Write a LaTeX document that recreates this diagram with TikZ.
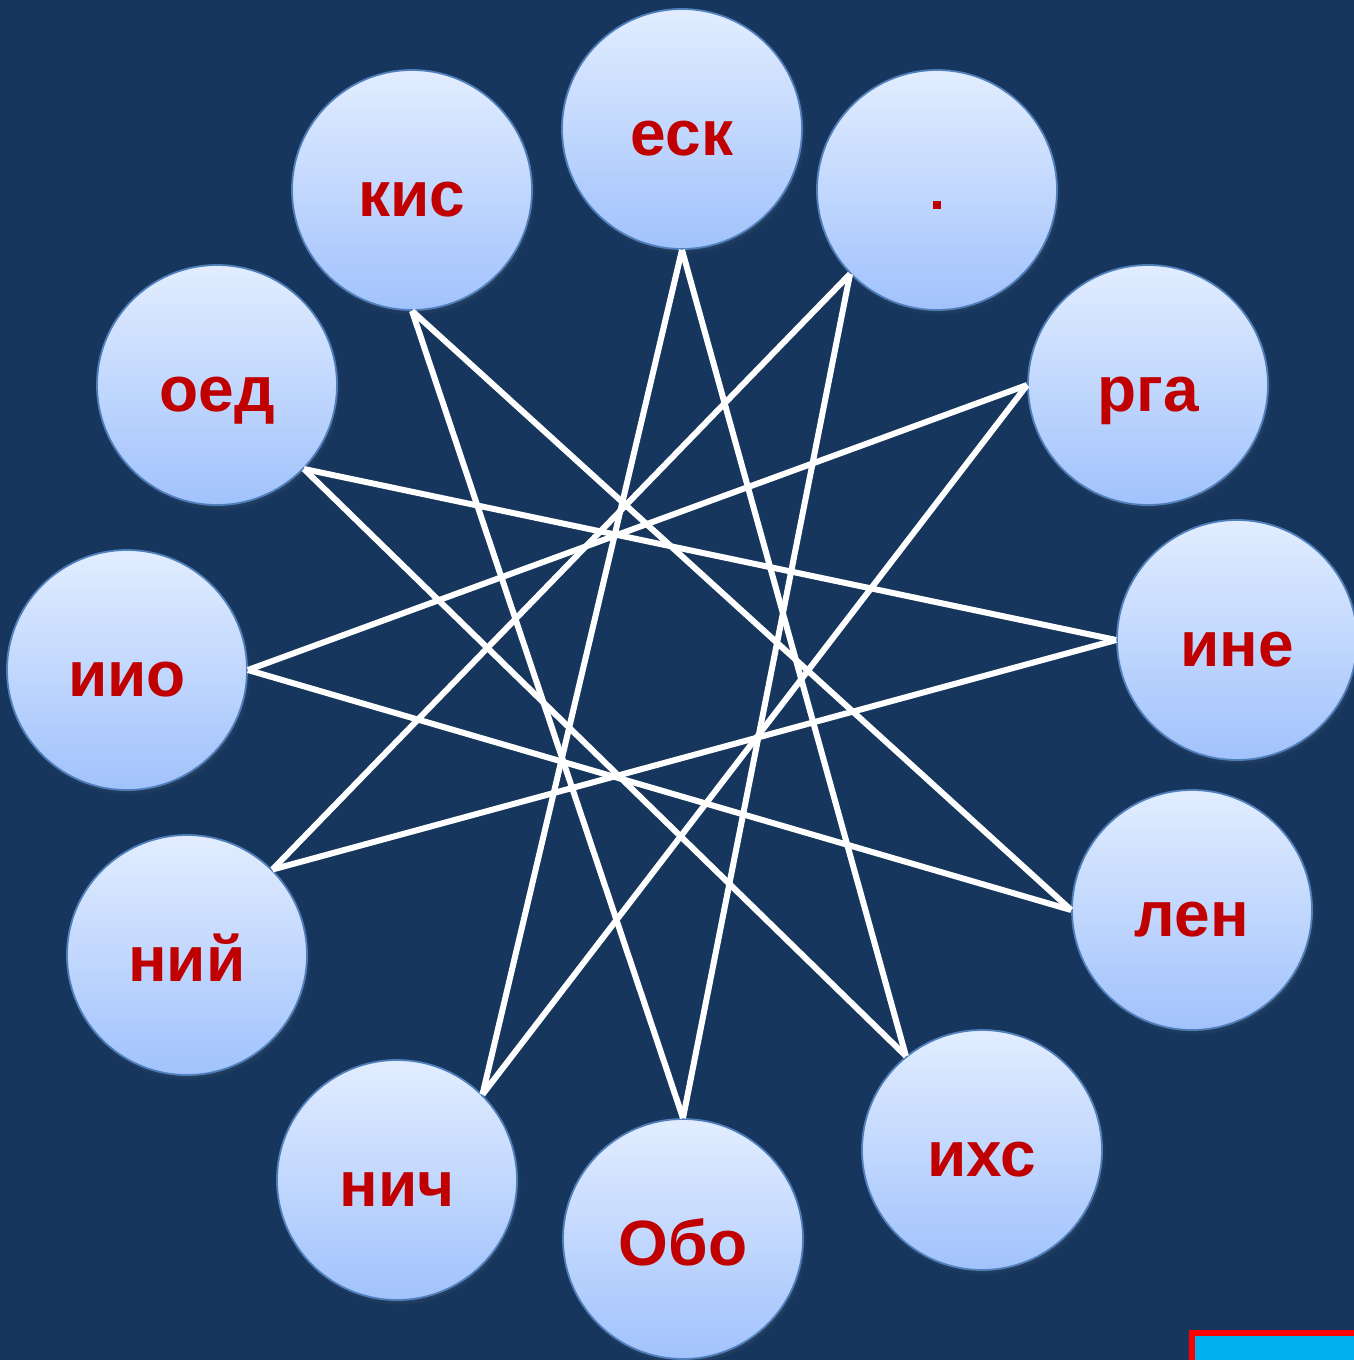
\documentclass[tikz,border=0pt]{standalone}
\usepackage{fontspec}
\setmainfont{Liberation Sans}
\usetikzlibrary{shadows}
\definecolor{bgblue}{HTML}{17365D}
\definecolor{ctop}{HTML}{E2EDFF}
\definecolor{cbot}{HTML}{A1C2FC}
\definecolor{cedge}{HTML}{4F7FBB}
\definecolor{wordred}{HTML}{C00000}
\definecolor{cyanbox}{HTML}{00B0F0}
\tikzset{
  ball/.style={circle, minimum size=240pt, inner sep=0pt, draw=cedge, line width=1.8pt,
    top color=ctop, bottom color=cbot,
    circular drop shadow={opacity=0.45, shadow xshift=1.5pt, shadow yshift=-2.5pt, shadow scale=1.02},
    text=wordred, font=\bfseries\fontsize{64}{70}\selectfont,
    text height=52pt, text depth=0pt},
  link/.style={draw=white, line width=6pt}
}
\begin{document}
\begin{tikzpicture}[x=1pt,y=-1pt]
\useasboundingbox (0,0) rectangle (1354,1360);
\fill[bgblue] (0,0) rectangle (1354,1360);
% corner box
\fill[red] (1189,1330) rectangle (1354,1360);
\fill[cyanbox] (1195,1336) rectangle (1354,1360);
% circles
\node[ball] (a) at (682,129) {еск};
\node[ball] (b) at (937,190) {};
\node[ball] (c) at (1148,385) {рга};
\node[ball] (d) at (1237,640) {ине};
\node[ball] (e) at (1192,910) {лен};
\node[ball] (f) at (982,1150) {ихс};
\node[ball] (g) at (683,1239) {Обо};
\node[ball] (h) at (397,1180) {нич};
\node[ball] (i) at (187,955) {ний};
\node[ball] (j) at (127,670) {иио};
\node[ball] (k) at (217,385) {оед};
\node[ball] (l) at (412,190) {кис};
\node[fill=wordred, minimum size=8pt, inner sep=0pt] (dot) at (937,205) {};
% star lines
\draw[link] (a.-90) -- (h.45);
\draw[link] (a.-90) -- (f.129);
\draw[link] (b.224) -- (g.90);
\draw[link] (b.224) -- (i.45);
\draw[link] (c.180) -- (h.45);
\draw[link] (c.180) -- (j.0);
\draw[link] (d.180) -- (i.45);
\draw[link] (d.180) -- (k.-44);
\draw[link] (e.180) -- (j.0);
\draw[link] (e.180) -- (l.-90);
\draw[link] (f.129) -- (k.-44);
\draw[link] (g.90) -- (l.-90);
\end{tikzpicture}
\end{document}
